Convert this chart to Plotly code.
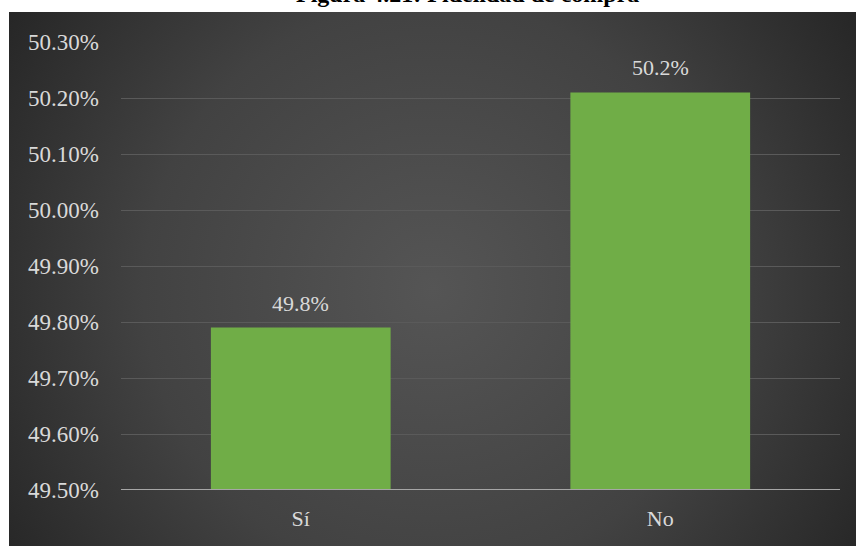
import base64
import plotly.graph_objects as go

# Survey results: purchase loyalty
categories = ["Sí", "No"]
shares = [49.79, 50.21]          # percent of respondents
value_labels = ["49.8%", "50.2%"]
y_ticks = [49.5, 49.6, 49.7, 49.8, 49.9, 50.0, 50.1, 50.2, 50.3]
y_tick_labels = [f"{v:.2f}%" for v in y_ticks]

W, H = 856, 546
L, R, T, B = 121, 16, 42, 56
plot_w = W - L - R
plot_h = H - T - B

# dark radial-gradient backdrop behind the chart (the white strip at the top holds the title)
bg_x0, bg_y0 = 9, 12
bg_w, bg_h = W - bg_x0, H - bg_y0
svg = f"""<svg xmlns='http://www.w3.org/2000/svg' width='{bg_w}' height='{bg_h}' viewBox='0 0 {bg_w} {bg_h}'>
<defs><radialGradient id='g' gradientUnits='userSpaceOnUse' cx='{bg_w*0.5}' cy='{bg_h*0.52}' r='{bg_w*0.62}'>
<stop offset='0' stop-color='#555555'/><stop offset='0.55' stop-color='#424242'/><stop offset='1' stop-color='#242424'/>
</radialGradient></defs>
<rect width='{bg_w}' height='{bg_h}' fill='url(#g)'/></svg>"""
bg_src = "data:image/svg+xml;base64," + base64.b64encode(svg.encode()).decode()

FONT = "Liberation Serif, Times New Roman, serif"

fig = go.Figure(
    go.Bar(
        x=categories,
        y=shares,
        width=0.5,
        marker=dict(color="#70AD47", line=dict(width=0)),
        hoverinfo="skip",
    )
)

# value labels above each bar
for cat, val, lab in zip(categories, shares, value_labels):
    fig.add_annotation(
        x=cat, y=val, text=lab, showarrow=False, yanchor="bottom", yshift=10,
        font=dict(family=FONT, size=22, color="#D9D9D9"),
    )

# title, partly clipped by the top edge
fig.add_annotation(
    xref="paper", yref="paper", x=(467 - L) / plot_w, y=(H - B - 9) / plot_h,
    xanchor="center", yanchor="bottom", showarrow=False,
    text="<b>Figura 4.21: Fidelidad de compra</b>",
    font=dict(family=FONT, size=24, color="#000000"),
)

fig.add_layout_image(
    source=bg_src, xref="paper", yref="paper",
    x=(bg_x0 - L) / plot_w, y=(H - B - bg_y0) / plot_h,
    sizex=bg_w / plot_w, sizey=bg_h / plot_h,
    xanchor="left", yanchor="top", sizing="stretch", layer="below",
)

fig.update_layout(
    width=W, height=H,
    margin=dict(l=L, r=R, t=T, b=B, pad=0),
    paper_bgcolor="#FFFFFF",
    plot_bgcolor="rgba(0,0,0,0)",
    showlegend=False,
    bargap=0.5,
    font=dict(family=FONT, size=22, color="#D9D9D9"),
    xaxis=dict(
        showgrid=False, zeroline=False, showline=False,
        ticks="", ticklabelstandoff=13,
        tickfont=dict(family=FONT, size=22, color="#D9D9D9"),
    ),
    yaxis=dict(
        range=[49.5, 50.3], tickvals=y_ticks, ticktext=y_tick_labels,
        showgrid=True, gridcolor="#5A5A5A", gridwidth=1,
        zeroline=False, showline=False, ticks="", ticklabelstandoff=21,
        tickfont=dict(family=FONT, size=23, color="#D9D9D9"),
    ),
)

# horizontal category axis line at the base of the value range
fig.add_shape(
    type="line", xref="paper", yref="y", x0=0, x1=1, y0=49.5, y1=49.5,
    line=dict(color="#A6A6A6", width=2), layer="above",
)

fig.write_html("out.html")
